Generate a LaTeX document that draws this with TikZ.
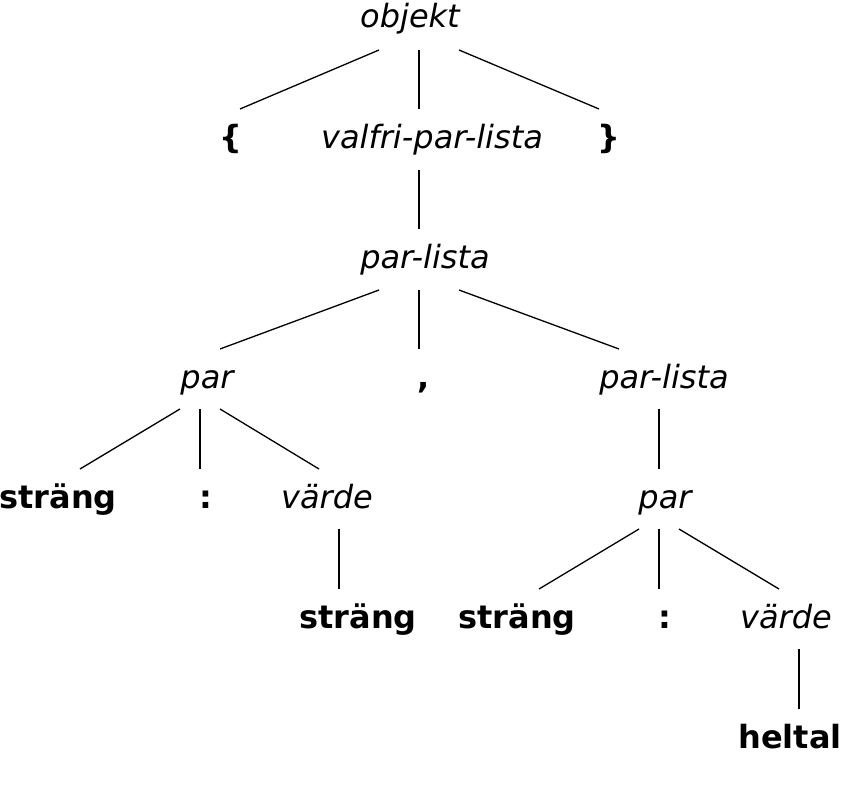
\documentclass[tikz,border=0pt]{standalone}
\usepackage{fontspec}
\setmainfont{DejaVu Sans}
\begin{document}
\begin{tikzpicture}[x=1pt,y=-1pt,
  nt/.style={anchor=base,inner sep=0pt,font=\fontsize{32}{38}\selectfont\itshape},
  tm/.style={anchor=base,inner sep=0pt,font=\fontsize{32}{38}\selectfont\bfseries},
  edge/.style={line width=1.3pt,line cap=butt}]
\useasboundingbox (0,0) rectangle (843,797);
% row 1
\node[nt] (objekt) at (410,28) {objekt};
% row 2
\node[tm] (lb) at (231,148) {\{};
\node[nt] (valfri) at (432,148) {valfri-par-lista};
\node[tm] (rb) at (609,148) {\}};
% row 3
\node[nt] (pl1) at (425,268) {par-lista};
% row 4
\node[nt] (par1) at (207,388) {par};
\node[tm] (comma) at (424,388) {,};
\node[nt] (pl2) at (664,388) {par-lista};
% row 5
\node[tm] (str1) at (58,508) {sträng};
\node[tm] (col1) at (206,508) {:};
\node[nt] (varde1) at (327,508) {värde};
\node[nt] (par2) at (665,508) {par};
% row 6
\node[tm] (str2) at (358,628) {sträng};
\node[tm] (str3) at (517,628) {sträng};
\node[tm] (col2) at (665,628) {:};
\node[nt] (varde2) at (786,628) {värde};
% row 7
\node[tm] (heltal) at (790,748) {heltal};
% edges
\draw[edge] ([shift={(-31,22)}]objekt.base) -- ([shift={(9,-39)}]lb.base);
\draw[edge] ([shift={(9,22)}]objekt.base) -- ([shift={(-13,-39)}]valfri.base);
\draw[edge] ([shift={(49,22)}]objekt.base) -- ([shift={(-10,-39)}]rb.base);
\draw[edge] ([shift={(-13,22)}]valfri.base) -- ([shift={(-6,-39)}]pl1.base);
\draw[edge] ([shift={(-46,22)}]pl1.base) -- ([shift={(13,-39)}]par1.base);
\draw[edge] ([shift={(-6,22)}]pl1.base) -- ([shift={(-5,-39)}]comma.base);
\draw[edge] ([shift={(34,22)}]pl1.base) -- ([shift={(-45,-39)}]pl2.base);
\draw[edge] ([shift={(-27,21)}]par1.base) -- ([shift={(22,-39)}]str1.base);
\draw[edge] ([shift={(-7,21)}]par1.base) -- ([shift={(-6,-39)}]col1.base);
\draw[edge] ([shift={(13,21)}]par1.base) -- ([shift={(-8,-39)}]varde1.base);
\draw[edge] ([shift={(-5,21)}]pl2.base) -- ([shift={(-6,-39)}]par2.base);
\draw[edge] ([shift={(12,21)}]varde1.base) -- ([shift={(-19,-39)}]str2.base);
\draw[edge] ([shift={(-26,21)}]par2.base) -- ([shift={(22,-39)}]str3.base);
\draw[edge] ([shift={(-6,21)}]par2.base) -- ([shift={(-6,-39)}]col2.base);
\draw[edge] ([shift={(14,21)}]par2.base) -- ([shift={(-7,-39)}]varde2.base);
\draw[edge] ([shift={(13,21)}]varde2.base) -- ([shift={(9,-39)}]heltal.base);
\end{tikzpicture}
\end{document}
